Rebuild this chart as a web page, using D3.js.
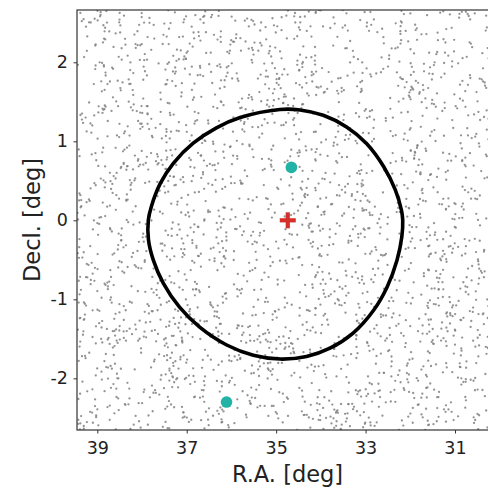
<!DOCTYPE html>
<html>
<head>
<meta charset="utf-8">
<script src="https://cdn.jsdelivr.net/npm/d3@7"></script>
<style>
  html, body { margin: 0; padding: 0; background: #fff; }
  svg { display: block; font-family: "DejaVu Sans", sans-serif; }
</style>
</head>
<body>
<svg id="chart" width="488" height="488"></svg>
<script>
// Axis extents (degrees); R.A. runs right-to-left
const raDomain = [39.454, 30.038];
const decDomain = [-2.654, 2.662];
const raTicks = [39, 37, 35, 33, 31];
const decTicks = [-2, -1, 0, 1, 2];

// Field centre marker
const centerRA = [34.74];
const centerDec = [0.0];

// Highlighted sources
const sourceRA = [34.66, 36.11];
const sourceDec = [0.67, -2.30];

// Footprint boundary (closed contour), R.A. / Decl. in degrees
const contourRA = [34.914, 34.466, 33.947, 33.424, 32.979, 32.597, 32.335, 32.198, 32.169, 32.189,
                   32.297, 32.518, 32.820, 33.279, 33.795, 34.319, 34.914, 35.511, 36.106, 36.710,
                   37.161, 37.522, 37.747, 37.855, 37.859, 37.792, 37.591, 37.300, 36.855, 36.336,
                   35.806];
const contourDec = [1.403, 1.397, 1.329, 1.182, 0.972, 0.681, 0.385, 0.129, 0.003, -0.208,
                    -0.504, -0.843, -1.138, -1.427, -1.619, -1.723, -1.756, -1.708, -1.578, -1.352,
                    -1.099, -0.797, -0.503, -0.249, 0.003, 0.173, 0.467, 0.722, 0.976, 1.171,
                    1.301];

// Background field stars: a dense, uniform sample drawn with a fixed seed
const nField = 2600;
const rng = d3.randomLcg(0.4127);
const fieldRA = d3.range(nField).map(() => raDomain[1] + rng() * (raDomain[0] - raDomain[1]));
const fieldDec = d3.range(nField).map(() => decDomain[0] + rng() * (decDomain[1] - decDomain[0]));

const svg = d3.select("#chart");
const plot = { left: 77, right: 498, top: 10, bottom: 430 };

const x = d3.scaleLinear().domain(raDomain).range([plot.left, plot.right]);
const y = d3.scaleLinear().domain(decDomain).range([plot.bottom, plot.top]);

svg.append("defs").append("clipPath").attr("id", "plotClip")
  .append("rect")
  .attr("x", plot.left).attr("y", plot.top)
  .attr("width", plot.right - plot.left).attr("height", plot.bottom - plot.top);

const g = svg.append("g").attr("clip-path", "url(#plotClip)");

// field stars
g.append("g").selectAll("circle")
  .data(d3.range(nField))
  .join("circle")
  .attr("cx", i => x(fieldRA[i]))
  .attr("cy", i => y(fieldDec[i]))
  .attr("r", 1.15)
  .attr("fill", "#808080")
  .attr("fill-opacity", 0.85);

// footprint contour
const contourPts = contourRA.map((ra, i) => [ra, contourDec[i]]);
g.append("path")
  .datum(contourPts)
  .attr("d", d3.line().x(d => x(d[0])).y(d => y(d[1])).curve(d3.curveCatmullRomClosed.alpha(0.5)))
  .attr("fill", "none")
  .attr("stroke", "#000")
  .attr("stroke-width", 3.6);

// centre marker (plus)
const plusSize = 16, plusW = 4.2;
centerRA.forEach((ra, i) => {
  const cx = x(ra), cy = y(centerDec[i]);
  const m = g.append("g").attr("fill", "#d62f2a");
  m.append("rect").attr("x", cx - plusSize / 2).attr("y", cy - plusW / 2).attr("width", plusSize).attr("height", plusW);
  m.append("rect").attr("x", cx - plusW / 2).attr("y", cy - plusSize / 2).attr("width", plusW).attr("height", plusSize);
});

// highlighted sources
g.append("g").selectAll("circle")
  .data(d3.range(sourceRA.length))
  .join("circle")
  .attr("cx", i => x(sourceRA[i]))
  .attr("cy", i => y(sourceDec[i]))
  .attr("r", 5.8)
  .attr("fill", "#22b2a6");

// axes
const xAxis = d3.axisBottom(x).tickValues(raTicks).tickSize(3.5).tickPadding(8.5).tickFormat(d3.format("d"));
const yAxis = d3.axisLeft(y).tickValues(decTicks).tickSize(3.5).tickPadding(5.5).tickFormat(d => d < 0 ? "-" + Math.abs(d) : String(d));

const gx = svg.append("g").attr("transform", `translate(0,${plot.bottom})`).call(xAxis);
const gy = svg.append("g").attr("transform", `translate(${plot.left},0)`).call(yAxis);
[gx, gy].forEach(a => {
  a.select(".domain").remove();
  a.selectAll(".tick line").attr("stroke", "#333").attr("stroke-width", 1);
  a.selectAll(".tick text").attr("fill", "#222").attr("font-size", 17.5).attr("font-family", "DejaVu Sans, sans-serif");
});

// frame
svg.append("rect")
  .attr("x", plot.left).attr("y", plot.top)
  .attr("width", plot.right - plot.left).attr("height", plot.bottom - plot.top)
  .attr("fill", "none").attr("stroke", "#333").attr("stroke-width", 1.2);

// axis titles
svg.append("text")
  .attr("x", (plot.left + plot.right) / 2).attr("y", 481.5)
  .attr("text-anchor", "middle").attr("font-size", 22.5).attr("fill", "#222")
  .text("R.A. [deg]");
svg.append("text")
  .attr("transform", `translate(39.5,${(plot.top + plot.bottom) / 2}) rotate(-90)`)
  .attr("text-anchor", "middle").attr("font-size", 22.5).attr("fill", "#222")
  .text("Decl. [deg]");
</script>
</body>
</html>
